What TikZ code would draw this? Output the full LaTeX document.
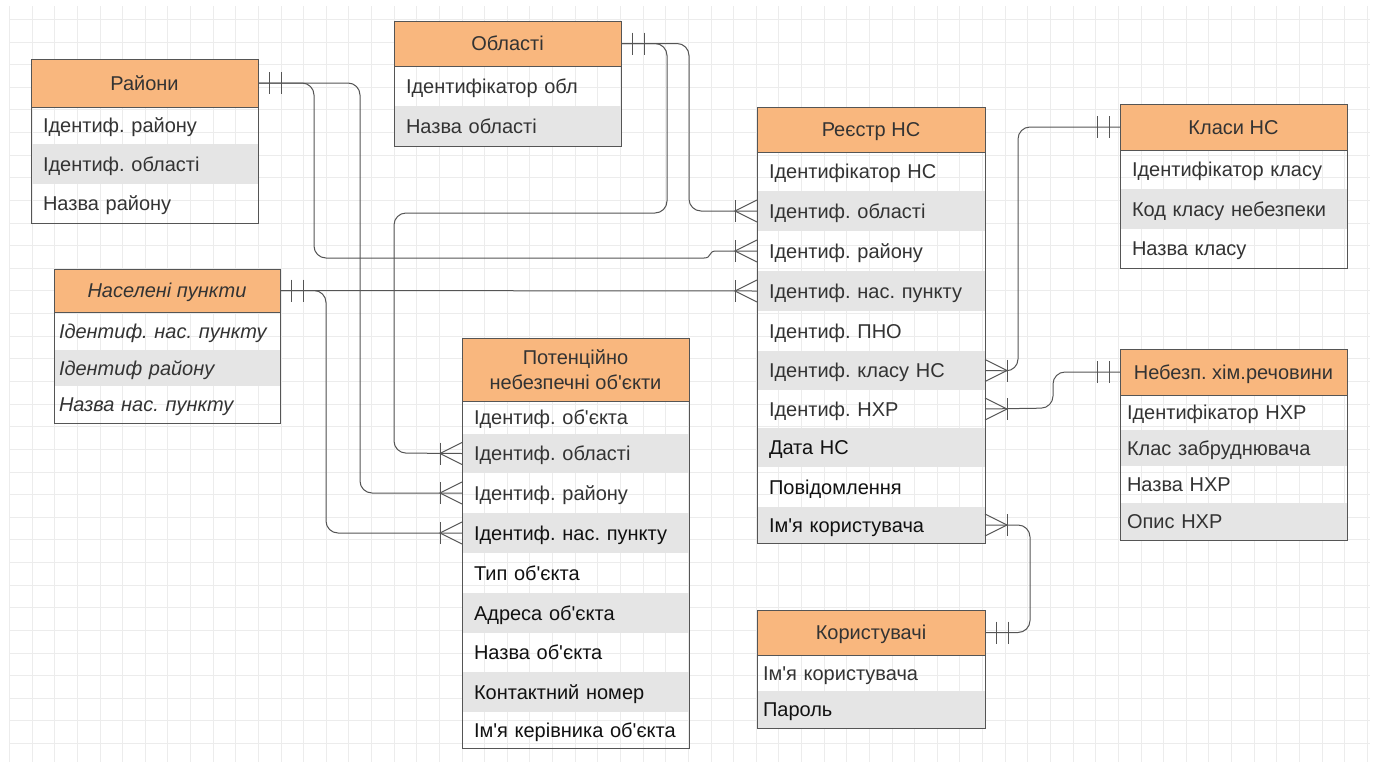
\documentclass[tikz,border=0pt]{standalone}
\usepackage{fontspec}
\setmainfont{Liberation Sans}[Ligatures=TeXOff]
\usetikzlibrary{calc}
\definecolor{hd}{RGB}{249,183,126}
\definecolor{rowg}{RGB}{229,229,229}
\definecolor{bd}{RGB}{85,85,85}
\definecolor{tx}{RGB}{51,51,51}
\definecolor{tk}{RGB}{17,17,17}
\definecolor{gridc}{RGB}{236,236,236}
\newcommand{\fs}{\fontsize{20}{23}\selectfont\frenchspacing}
\newcommand{\mandone}[2]{%
  \draw[conn] ($(#1)+(#2*11,-11)$) -- ++(0,22);
  \draw[conn] ($(#1)+(#2*23,-11)$) -- ++(0,22);}
\newcommand{\manyone}[2]{%
  \draw[conn] ($(#1)+(#2*22,-11)$) -- ++(0,22);
  \draw[conn] ($(#1)+(0,11)$) -- ($(#1)+(#2*22,0)$) -- ($(#1)+(0,-11)$);}
\tikzset{
  x=1pt, y=-1pt,
  base/.style={anchor=north west, inner ysep=0pt, outer sep=0pt, text=tx, font=\fs},
  ent/.style={base, text height=14.3pt, text depth=0pt},
  hdr/.style={ent, fill=hd, draw=bd, line width=1pt, align=center, inner xsep=0pt},
  rw/.style={ent, align=left, inner xsep=12pt, text width=#1},
  rw/.default=203pt,
  gr/.style={rw=#1, fill=rowg},
  gr/.default=203pt,
  box/.style={draw=bd, line width=1pt},
  conn/.style={draw=bd, line width=1pt},
  rc/.style={conn, rounded corners=12pt},
}
\begin{document}
\begin{tikzpicture}
\useasboundingbox (0,0) rectangle (1379,766);
\fill[white] (0,0) rectangle (1379,766);
% grid
\foreach \k in {0,...,60} {
  \pgfmathsetmacro{\gx}{9.4+\k*22.63}
  \draw[gridc, line width=0.8pt] (\gx,6) -- (\gx,762);
}
\foreach \k in {0,...,32} {
  \pgfmathsetmacro{\gy}{19.3+\k*22.63}
  \draw[gridc, line width=0.8pt] (9,\gy) -- (1370,\gy);
}

% ---------- Райони ----------
\node[hdr, minimum width=227pt, minimum height=48pt] (rT) at (31,59) {Райони};
\node[rw, minimum height=37pt] (r1) at (31,107) {Ідентиф. району};
\node[gr, minimum height=40pt] (r2) at (31,144) {Ідентиф. області};
\node[rw, minimum height=39pt] (r3) at (31,184) {Назва району};
\draw[box] (rT.north west) rectangle (r3.south east);
\draw[box] (rT.south west) -- (rT.south east);

% ---------- Області ----------
\node[hdr, minimum width=227pt, minimum height=45pt] (oT) at (394,21) {Області};
\node[rw, minimum height=40pt] (o1) at (394,66) {Ідентифікатор обл};
\node[gr, minimum height=40pt] (o2) at (394,106) {Назва області};
\draw[box] (oT.north west) rectangle (o2.south east);
\draw[box] (oT.south west) -- (oT.south east);

% ---------- Населені пункти ----------
\node[hdr, minimum width=226pt, minimum height=43pt, font=\fs\itshape] (nT) at (54,269) {Населені пункти};
\node[rw=216pt, inner xsep=5pt, minimum height=38pt, font=\fs\itshape] (n1) at (54,312) {Ідентиф. нас. пункту};
\node[gr=216pt, inner xsep=5pt, minimum height=36pt, font=\fs\itshape] (n2) at (54,350) {Ідентиф району};
\node[rw=216pt, inner xsep=5pt, minimum height=37pt, font=\fs\itshape] (n3) at (54,386) {Назва нас. пункту};
\draw[box] (nT.north west) rectangle (n3.south east);
\draw[box] (nT.south west) -- (nT.south east);

% ---------- Потенційно небезпечні об'єкти ----------
\node[base, fill=hd, draw=bd, line width=1pt, align=center, inner xsep=0pt,
      minimum width=227pt, minimum height=63pt, font=\fontsize{20}{25}\selectfont] (pT) at (462,338) {Потенційно\\небезпечні об'єкти};
\node[rw, minimum height=33pt] (p1) at (462,401) {Ідентиф. об'єкта};
\node[gr, minimum height=39pt] (p2) at (462,434) {Ідентиф. області};
\node[rw, minimum height=40pt] (p3) at (462,473) {Ідентиф. району};
\node[gr, minimum height=40pt, text=tk] (p4) at (462,513) {Ідентиф. нас. пункту};
\node[rw, minimum height=40pt, text=tk] (p5) at (462,553) {Тип об'єкта};
\node[gr, minimum height=40pt, text=tk] (p6) at (462,593) {Адреса об'єкта};
\node[rw, minimum height=39pt, text=tk] (p7) at (462,633) {Назва об'єкта};
\node[gr, minimum height=40pt, text=tk] (p8) at (462,672) {Контактний номер};
\node[rw, minimum height=36pt, text=tk] (p9) at (462,712) {Ім'я керівника об'єкта};
\draw[box] (pT.north west) rectangle (p9.south east);
\draw[box] (pT.south west) -- (pT.south east);

% ---------- Реєстр НС ----------
\node[hdr, minimum width=228pt, minimum height=45pt] (gT) at (757,107) {Реєстр НС};
\node[rw=204pt, minimum height=39pt] (g1) at (757,152) {Ідентифікатор НС};
\node[gr=204pt, minimum height=40pt] (g2) at (757,191) {Ідентиф. області};
\node[rw=204pt, minimum height=40pt] (g3) at (757,231) {Ідентиф. району};
\node[gr=204pt, minimum height=40pt] (g4) at (757,271) {Ідентиф. нас. пункту};
\node[rw=204pt, minimum height=40pt] (g5) at (757,311) {Ідентиф. ПНО};
\node[gr=204pt, minimum height=39pt] (g6) at (757,351) {Ідентиф. класу НС};
\node[rw=204pt, minimum height=38pt] (g7) at (757,390) {Ідентиф. НХР};
\node[gr=204pt, minimum height=39pt, text=tk] (g8) at (757,428) {Дата НС};
\node[rw=204pt, minimum height=40pt, text=tk] (g9) at (757,467) {Повідомлення};
\node[gr=204pt, minimum height=36pt, text=tk] (g10) at (757,507) {Ім'я користувача};
\draw[box] (gT.north west) rectangle (g10.south east);
\draw[box] (gT.south west) -- (gT.south east);

% ---------- Класи НС ----------
\node[hdr, minimum width=227pt, minimum height=46pt] (kT) at (1120,104) {Класи НС};
\node[rw, minimum height=39pt] (k1) at (1120,150) {Ідентифікатор класу};
\node[gr, minimum height=40pt] (k2) at (1120,189) {Код класу небезпеки};
\node[rw, minimum height=39pt] (k3) at (1120,229) {Назва класу};
\draw[box] (kT.north west) rectangle (k3.south east);
\draw[box] (kT.south west) -- (kT.south east);

% ---------- Небезп. хім.речовини ----------
\node[hdr, minimum width=227pt, minimum height=46pt] (hT) at (1120,349) {Небезп. хім.речовини};
\node[rw=213pt, inner xsep=7pt, minimum height=35pt] (h1) at (1120,395) {Ідентифікатор НХР};
\node[gr=213pt, inner xsep=7pt, minimum height=36pt] (h2) at (1120,430) {Клас забруднювача};
\node[rw=213pt, inner xsep=7pt, minimum height=37pt] (h3) at (1120,466) {Назва НХР};
\node[gr=213pt, inner xsep=7pt, minimum height=37pt] (h4) at (1120,503) {Опис НХР};
\draw[box] (hT.north west) rectangle (h4.south east);
\draw[box] (hT.south west) -- (hT.south east);

% ---------- Користувачі ----------
\node[hdr, minimum width=228pt, minimum height=45pt] (uT) at (757,610) {Користувачі};
\node[rw=216pt, inner xsep=6pt, minimum height=36pt] (u1) at (757,655) {Ім'я користувача};
\node[gr=216pt, inner xsep=6pt, minimum height=37pt, text=tk] (u2) at (757,691) {Пароль};
\draw[box] (uT.north west) rectangle (u2.south east);
\draw[box] (uT.south west) -- (uT.south east);

% ---------- helper coordinates ----------
\coordinate (a1) at (314,258);
\coordinate (a2) at (704,258);
\coordinate (a3) at (716,251);
\coordinate (b1) at (360,493);
\coordinate (c1) at (667,213);
\coordinate (c2) at (394,453);
\coordinate (d1) at (689,211);
\coordinate (f1) at (326,533);
\coordinate (k0) at (1018,371);
\coordinate (h0) at (1053,408);
\coordinate (u0) at (1030,525);

% ---------- connectors ----------
\draw[rc] (rT.east) -| (a1) -- (a2);
\draw[conn] (a2) .. controls (712,258) and (708,251) .. (a3) -- (g3.west);
\draw[rc] (rT.east) -| (b1) -- (p3.west);
\draw[rc] (oT.east) -| (c1) -| (c2) -- (p2.west);
\draw[rc] (oT.east) -| (d1) -- (g2.west);
\draw[conn] (nT.east) -- (g4.west);
\draw[rc] (nT.east) -| (f1) -- (p4.west);
\draw[rc] (kT.west) -| (k0) -- (g6.east);
\draw[rc] (hT.west) -| (h0) -- (g7.east);
\draw[rc] (uT.east) -| (u0) -- (g10.east);

% ---------- end marks ----------
\mandone{rT.east}{1}
\mandone{oT.east}{1}
\mandone{nT.east}{1}
\mandone{kT.west}{-1}
\mandone{hT.west}{-1}
\mandone{uT.east}{1}
\manyone{g2.west}{-1}
\manyone{g3.west}{-1}
\manyone{g4.west}{-1}
\manyone{p2.west}{-1}
\manyone{p3.west}{-1}
\manyone{p4.west}{-1}
\manyone{g6.east}{1}
\manyone{g7.east}{1}
\manyone{g10.east}{1}
\end{tikzpicture}
\end{document}
